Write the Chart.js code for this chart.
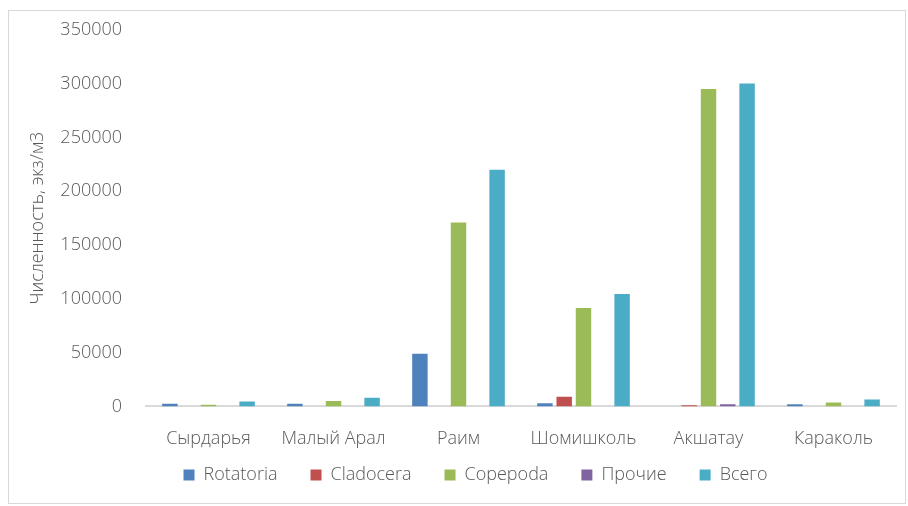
<!DOCTYPE html>
<html>
<head>
<meta charset="utf-8">
<script src="https://cdn.jsdelivr.net/npm/chart.js@4"></script>
<style>
  html, body { margin: 0; padding: 0; background: #fff; }
  #wrap { position: absolute; left: 8px; top: 10px; width: 898px; height: 494px; box-sizing: border-box; border: 1px solid #d9d9d9; }
  canvas { position: absolute; left: 0; top: 0; }
</style>
</head>
<body>
<div id="wrap"></div>
<canvas id="c" width="908" height="506"></canvas>
<script>
const categories = ['Сырдарья', 'Малый Арал', 'Раим', 'Шомишколь', 'Акшатау', 'Караколь'];
const rotatoria = [2500, 2500, 49000, 3000, 0, 2000];
const cladocera = [0, 0, 0, 9000, 1000, 0];
const copepoda  = [1500, 5000, 171000, 91500, 295000, 3700];
const prochie   = [0, 0, 0, 0, 2000, 0];
const vsego     = [4600, 8000, 220000, 104500, 300000, 6500];
const yTicks = [0, 50000, 100000, 150000, 200000, 250000, 300000, 350000];

const FONT = "'Open Sans', 'Noto Sans', sans-serif";
const TXT = '#595959';

// legend: keep wide horizontal spacing between items but reserve less height,
// and move the row a little right of the canvas centre
const LEGEND_TRIM = 39;
const LEGEND_DX = 14;
const legendTweak = {
  id: 'legendTweak',
  afterInit(chart) {
    const lg = chart.legend;
    if (!lg) return;
    const fit = lg.fit.bind(lg);
    lg.fit = function () { fit(); this.height -= LEGEND_TRIM; };
  },
  afterLayout(chart) {
    const lg = chart.legend;
    if (!lg) return;
    lg.left += LEGEND_DX; lg.right += LEGEND_DX;
    lg.top -= LEGEND_TRIM;
  }
};

new Chart(document.getElementById('c'), {
  type: 'bar',
  data: {
    labels: categories,
    datasets: [
      { label: 'Rotatoria', data: rotatoria, backgroundColor: '#4f81bd' },
      { label: 'Cladocera', data: cladocera, backgroundColor: '#c0504d' },
      { label: 'Copepoda',  data: copepoda,  backgroundColor: '#9bbb59' },
      { label: 'Прочие',    data: prochie,   backgroundColor: '#8064a2' },
      { label: 'Всего',     data: vsego,     backgroundColor: '#4bacc6' }
    ]
  },
  plugins: [legendTweak],
  options: {
    responsive: false,
    animation: false,
    layout: { padding: { left: 27, right: 12, top: 0, bottom: 12 } },
    datasets: { bar: { categoryPercentage: 0.772, barPercentage: 0.8 } },
    plugins: {
      legend: {
        position: 'bottom',
        labels: {
          color: TXT,
          font: { family: FONT, size: 18, weight: 300 },
          boxWidth: 11, boxHeight: 11, padding: 33
        }
      },
      tooltip: { enabled: false }
    },
    scales: {
      x: {
        grid: { display: false, drawTicks: false },
        border: { color: '#d9d9d9', width: 2 },
        ticks: { color: TXT, font: { family: FONT, size: 18, weight: 300 }, padding: 22, maxRotation: 0, autoSkip: false }
      },
      y: {
        min: 0, max: 350000,
        afterBuildTicks: (axis) => { axis.ticks = yTicks.map(v => ({ value: v })); },
        afterFit: (scale) => { scale.width = 119; scale.paddingTop = Math.max(0, scale.paddingTop - 5); },
        grid: { display: false, drawTicks: false },
        border: { display: false },
        ticks: { color: TXT, font: { family: FONT, size: 18, weight: 300 }, padding: 24, callback: (v) => String(v) },
        title: { display: true, text: 'Численность, экз/м3', color: TXT, font: { family: FONT, size: 18, weight: 300 }, padding: 0 }
      }
    }
  }
});
</script>
</body>
</html>
